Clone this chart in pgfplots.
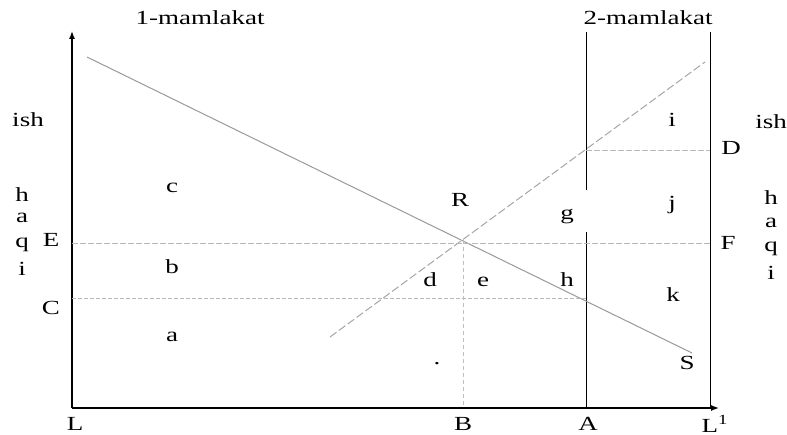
\documentclass[border=0pt]{standalone}
\usepackage{fontspec}
\setmainfont[FakeStretch=1.35]{Liberation Serif}
\usepackage{pgfplots}
\pgfplotsset{compat=1.18}
\usetikzlibrary{arrows.meta}

% pixel grid of the reference: x = px, y = 434 - py
\begin{document}
\begin{tikzpicture}
\useasboundingbox (0,0) rectangle (393.5pt,217pt);
\begin{axis}[
    at={(0,0)}, anchor=south west,
    width=393.5pt, height=217pt, scale only axis,
    xmin=0, xmax=787, ymin=0, ymax=434,
    axis lines=none, clip=false,
    every node/.style={font=\fontsize{8.5}{10}\selectfont},
]
% axes
\addplot[black, line width=0.7pt, -{Latex[length=4pt,width=3pt]}] coordinates {(72,26)(72,403)};
\addplot[black, line width=0.7pt, -{Latex[length=4pt,width=3pt]}] coordinates {(72,26)(719,26)};
% vertical lines at A and L1
\addplot[black, line width=0.5pt] coordinates {(586,26)(586,202)};
\addplot[black, line width=0.5pt] coordinates {(586,244)(586,402)};
\addplot[black, line width=0.5pt] coordinates {(710,26)(710,402)};
% descending line
\addplot[gray!80, line width=0.5pt] coordinates {(87,377)(692,81)};
% ascending line
\addplot[gray!70, line width=0.5pt, dash pattern=on 4pt off 1.5pt] coordinates {(330,97)(705,372)};
% price lines E, C, D
\addplot[gray!55, line width=0.45pt, dash pattern=on 3pt off 1pt] coordinates {(72,191)(710,191)};
\addplot[gray!55, line width=0.45pt, dash pattern=on 2pt off 1pt] coordinates {(72,136)(586,136)};
\addplot[gray!55, line width=0.45pt, dash pattern=on 3pt off 1pt] coordinates {(586,284)(710,284)};
% quantity line B
\addplot[gray!50, line width=0.45pt, dash pattern=on 2pt off 1.5pt] coordinates {(463,194)(463,26)};

% titles
\node at (axis cs:200,416) {1-mamlakat};
\node at (axis cs:648,416) {2-mamlakat};
\node at (axis cs:28,314) {ish};
\node at (axis cs:771,312) {ish};
\node at (axis cs:22,239) {h};
\node at (axis cs:22,216) {a};
\node at (axis cs:22,189) {q};
\node at (axis cs:22,165) {i};
\node at (axis cs:771,236) {h};
\node at (axis cs:771,211) {a};
\node at (axis cs:771,185) {q};
\node at (axis cs:771,161) {i};
% axis points
\node at (axis cs:51,194) {E};
\node at (axis cs:51,126) {C};
\node at (axis cs:731,286) {D};
\node at (axis cs:728,191) {F};
\node at (axis cs:75,10) {L};
\node at (axis cs:463,10) {B};
\node at (axis cs:588,10) {A};
\node at (axis cs:715,10) {L\textsuperscript{1}};
% areas
\node at (axis cs:172,246) {c};
\node at (axis cs:172,167) {b};
\node at (axis cs:172,97) {a};
\node at (axis cs:460,234) {R};
\node at (axis cs:567,217) {g};
\node at (axis cs:430,154) {d};
\node at (axis cs:483,152) {e};
\node at (axis cs:567,154) {h};
\node at (axis cs:672,314) {i};
\node at (axis cs:672,229) {j};
\node at (axis cs:673,139) {k};
\node at (axis cs:687,71) {S};
\node at (axis cs:437,70) {.};
\end{axis}
\end{tikzpicture}
\end{document}
